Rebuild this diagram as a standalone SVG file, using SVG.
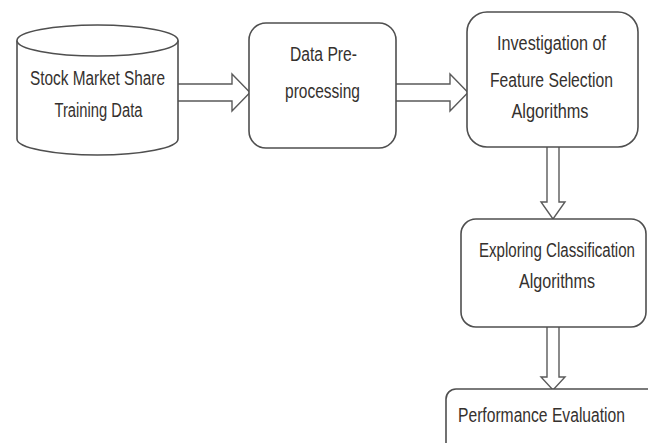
<svg xmlns="http://www.w3.org/2000/svg" width="648" height="443" viewBox="0 0 648 443">
  <style>
    .shape { fill: #ffffff; stroke: #4f4f4f; stroke-width: 1.6; }
    .flow { fill: #ffffff; stroke: #5a5a5a; stroke-width: 1.4; stroke-linejoin: miter; }
    .label { font-family: "Liberation Sans", Arial, sans-serif; font-size: 20px; fill: #35312e; text-anchor: middle; }
  </style>
  <rect width="648" height="443" fill="#ffffff"/>

  <!-- block arrows between the stages -->
  <g id="connectors">
    <path class="flow" d="M178,84 H232 V74 L250,92.5 L232,111 V101 H178"/>
    <path class="flow" d="M396,84 H450 V74 L468,92.5 L450,111 V101 H396"/>
    <path class="flow" d="M547,147 V202 H541 L553,219 L565,202 H559 V147"/>
    <path class="flow" d="M547,327 V377 H541 L553,390 L565,377 H559 V327"/>
  </g>

  <!-- data store drawn as a cylinder -->
  <g id="training-data">
    <path class="shape" d="M17,40.5 V139 A80.5,16 0 0 0 178,139 V40.5"/>
    <ellipse class="shape" cx="97.5" cy="40.5" rx="80.5" ry="15.5"/>
    <text class="label" x="97.5" y="85" textLength="135" lengthAdjust="spacingAndGlyphs">Stock Market Share</text>
    <text class="label" x="98.5" y="117" textLength="88" lengthAdjust="spacingAndGlyphs">Training Data</text>
  </g>

  <g id="preprocessing">
    <rect class="shape" x="249" y="23" width="147" height="125" rx="17" ry="17"/>
    <text class="label" x="323.5" y="61" textLength="67" lengthAdjust="spacingAndGlyphs">Data Pre-</text>
    <text class="label" x="322.5" y="98" textLength="75" lengthAdjust="spacingAndGlyphs">processing</text>
  </g>

  <g id="feature-selection">
    <rect class="shape" x="467" y="12" width="171" height="135" rx="20" ry="20"/>
    <text class="label" x="551.5" y="50" textLength="109" lengthAdjust="spacingAndGlyphs">Investigation of</text>
    <text class="label" x="551.5" y="87" textLength="123" lengthAdjust="spacingAndGlyphs">Feature Selection</text>
    <text class="label" x="550" y="118" textLength="77" lengthAdjust="spacingAndGlyphs">Algorithms</text>
  </g>

  <g id="classification">
    <rect class="shape" x="461" y="219" width="185" height="108" rx="15" ry="15"/>
    <text class="label" x="557" y="257" textLength="156" lengthAdjust="spacingAndGlyphs">Exploring Classification</text>
    <text class="label" x="557" y="288" textLength="76" lengthAdjust="spacingAndGlyphs">Algorithms</text>
  </g>

  <!-- last stage runs past the right and bottom edges -->
  <g id="evaluation">
    <path class="shape" d="M656,389 H456 A10,10 0 0 0 446,399 V452"/>
    <text class="label" x="541.5" y="422" textLength="167" lengthAdjust="spacingAndGlyphs">Performance Evaluation</text>
  </g>
</svg>
